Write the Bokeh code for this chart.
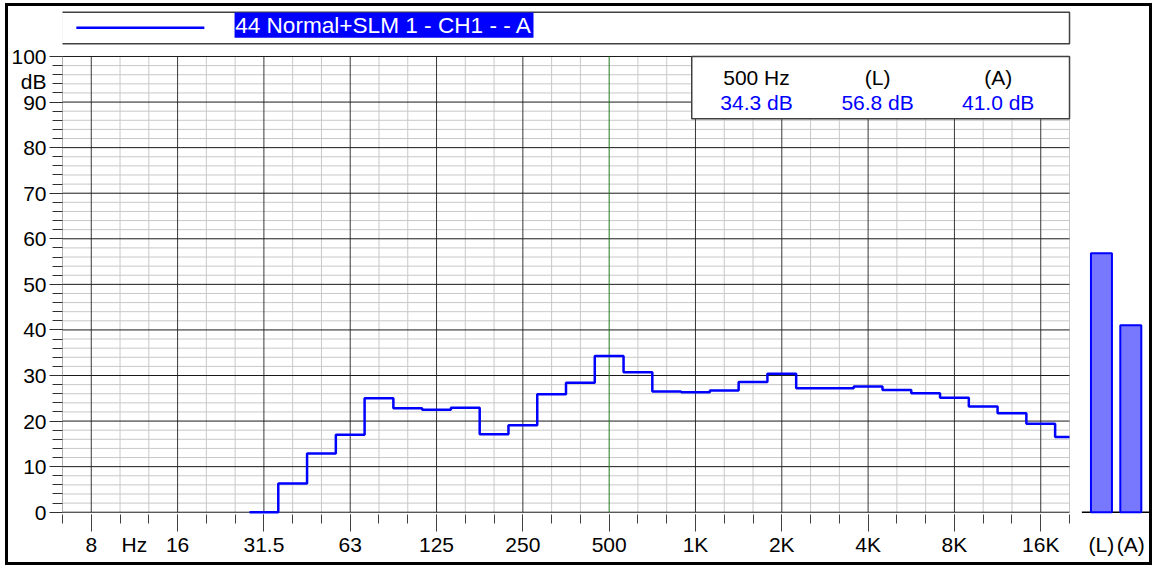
import math
from bokeh.plotting import figure
from bokeh.models import Range1d, FixedTicker, LinearAxis
from bokeh.embed import file_html
from bokeh.resources import INLINE
from bokeh.core.properties import value

# ---------------- data ----------------
band_freqs = [31.5, 40, 50, 63, 80, 100, 125, 160, 200, 250, 315, 400, 500, 630,
              800, 1000, 1250, 1600, 2000, 2500, 3150, 4000, 5000, 6300, 8000,
              10000, 12500, 16000, 20000]
band_levels = [0.0, 6.3, 12.9, 17.0, 25.0, 22.8, 22.5, 22.9, 17.1, 19.1, 25.9, 28.4,
               34.3, 30.7, 26.5, 26.3, 26.7, 28.6, 30.4, 27.2, 27.2, 27.6, 26.8,
               26.1, 25.1, 23.2, 21.7, 19.4, 16.5]
octave_freqs = [8, 16, 31.5, 63, 125, 250, 500, 1000, 2000, 4000, 8000, 16000]
octave_labels = ["8", "16", "31.5", "63", "125", "250", "500", "1K", "2K", "4K", "8K", "16K"]
total_names = ["(L)", "(A)"]
total_levels = [56.8, 41.0]
cursor_freq = 500
cursor_label = "500 Hz"
legend_text = "44 Normal+SLM 1 - CH1 -  - A"
y_major = list(range(0, 101, 10))
y_minor = list(range(0, 101, 2))
y_unit = "dB"
x_unit = "Hz"

# ---------------- layout constants ----------------
FONT = "Liberation Sans"
FS = "21px"
X_MIN, X_MAX = -1, 34          # third-octave band index range of the spectrum
X_END = 36.78                  # right end of frame (bars area)
Y_START, Y_END = -0.5, 110.97


def idx(f):
    return round(3 * math.log2(f / 8.0))


W, H = 1147, 562
p = figure(width=W, height=H, output_backend="svg", toolbar_location=None,
           x_range=Range1d(X_MIN, X_END), y_range=Range1d(Y_START, Y_END),
           min_border_left=53, min_border_right=6, min_border_top=0,
           min_border_bottom=54)
p.styles = {"margin-left": "5px", "margin-top": "3px", "border": "3px solid black"}
p.outline_line_color = None
p.xgrid.visible = False
p.ygrid.visible = False
p.background_fill_color = "white"
p.border_fill_color = "white"

# ---------------- grid ----------------
third = list(range(X_MIN, X_MAX + 1))
oct_idx = [idx(f) for f in octave_freqs]
minor_v = [i for i in third if i not in oct_idx]
p.segment(x0=minor_v, y0=[0] * len(minor_v), x1=minor_v, y1=[100] * len(minor_v),
          line_color="#c8c8c8", line_width=1)
p.segment(x0=[X_MIN], y0=[0], x1=[X_MIN], y1=[100], line_color="#7a7a7a", line_width=1)
hmin = [y for y in y_minor if y not in y_major]
p.segment(x0=[X_MIN] * len(hmin), y0=hmin, x1=[X_MAX] * len(hmin), y1=hmin,
          line_color="#c8c8c8", line_width=1)
ov = [i for i in oct_idx if i != idx(cursor_freq)]
p.segment(x0=ov, y0=[0] * len(ov), x1=ov, y1=[100] * len(ov),
          line_color="#383838", line_width=1)
p.segment(x0=[X_MIN] * len(y_major), y0=y_major, x1=[X_MAX] * len(y_major), y1=y_major,
          line_color="#1a1a1a", line_width=1)
ci = idx(cursor_freq)
p.segment(x0=[ci], y0=[0], x1=[ci], y1=[100], line_color="#1f7a1f", line_width=1)

# ---------------- spectrum step line ----------------
xs, ys = [], []
for f, v in zip(band_freqs, band_levels):
    i = idx(f)
    xs += [i - 0.5, min(i + 0.5, X_MAX)]
    ys += [v, v]
p.line(xs, ys, line_color="#0000ff", line_width=2.5)

# ---------------- overall level bars ----------------
bar_x = [X_MAX + 1.11 + k * 1.02 for k in range(len(total_levels))]
p.segment(x0=[X_MAX + 0.43], y0=[0], x1=[X_END], y1=[0], line_color="black", line_width=1.5)
p.vbar(x=bar_x, top=total_levels, bottom=0, width=0.73,
       fill_color="#7878ff", line_color="#0000ff", line_width=2)

# ---------------- cursor info box ----------------
p.quad(left=[20.87], right=[X_MAX], bottom=[86.33], top=[100],
       fill_color="white", line_color="#404040", line_width=1.5)
col_x = [23.12, 27.33, 31.52]
cursor_level = band_levels[band_freqs.index(cursor_freq)]
p.text(x=col_x, y=[95.33] * 3, text=[cursor_label] + total_names,
       text_align="center", text_baseline="middle", text_font=value(FONT),
       text_font_size=FS, text_color="black")
p.text(x=col_x, y=[89.97] * 3,
       text=[f"{v:.1f} dB" for v in [cursor_level] + total_levels],
       text_align="center", text_baseline="middle", text_font=value(FONT),
       text_font_size=FS, text_color="#0000ff")

# ---------------- legend ----------------
p.quad(left=[-1.04], right=[X_MAX], bottom=[102.79], top=[109.72],
       fill_color="white", line_color="#404040", line_width=1.5)
p.line([-0.52, 3.93], [106.3, 106.3], line_color="#0000ff", line_width=2.5)
p.quad(left=[4.98], right=[15.37], bottom=[104.1], top=[109.66],
       fill_color="#0000ff", line_color=None)
p.text(x=[5.0], y=[106.86], text=[legend_text], text_align="left",
       text_baseline="middle", text_font=value(FONT), text_font_size="22.6px",
       text_color="white")


# ---------------- axes ----------------
def ticks_only(ax):
    ax.axis_line_color = None
    ax.major_tick_in = 0
    ax.minor_tick_in = 0
    ax.major_label_text_font_size = "0px"
    ax.major_label_standoff = 0


def labels_only(ax, standoff):
    ax.axis_line_color = None
    ax.major_tick_in = 0
    ax.major_tick_out = 0
    ax.minor_tick_in = 0
    ax.minor_tick_out = 0
    ax.major_label_standoff = standoff
    ax.major_label_text_font = FONT
    ax.major_label_text_font_size = FS
    ax.major_label_text_font_style = "normal"
    ax.major_label_text_color = "black"


# bottom: tick marks (next to frame)
xa = p.xaxis[0]
xa.ticker = FixedTicker(ticks=oct_idx, minor_ticks=third)
xa.major_label_overrides = {i: "" for i in oct_idx}
ticks_only(xa)
xa.major_tick_out = 17
xa.minor_tick_out = 9
xa.major_tick_line_color = "#404040"
xa.minor_tick_line_color = "#404040"

# bottom: labels (below the tick marks)
x_lab_pos = oct_idx + [1.5] + bar_x
x_lab_txt = octave_labels + [x_unit] + total_names
xl = LinearAxis(ticker=FixedTicker(ticks=x_lab_pos, minor_ticks=[]))
xl.major_label_overrides = {t: s for t, s in zip(x_lab_pos, x_lab_txt)}
labels_only(xl, 1)
p.add_layout(xl, "below")

# left: tick marks
ya = p.yaxis[0]
ya.ticker = FixedTicker(ticks=y_major, minor_ticks=y_minor)
ya.major_label_overrides = {t: "" for t in y_major}
ticks_only(ya)
ya.major_tick_out = 13
ya.minor_tick_out = 10
ya.major_tick_line_color = "#303030"
ya.minor_tick_line_color = "#303030"

# left: labels
y_lab_pos = y_major + [94.5]
y_lab_txt = [str(t) for t in y_major] + [y_unit]
yl = LinearAxis(ticker=FixedTicker(ticks=y_lab_pos, minor_ticks=[]))
yl.major_label_overrides = {t: s for t, s in zip(y_lab_pos, y_lab_txt)}
labels_only(yl, 3)
p.add_layout(yl, "left")

open("out.html", "w").write(file_html(p, INLINE))
